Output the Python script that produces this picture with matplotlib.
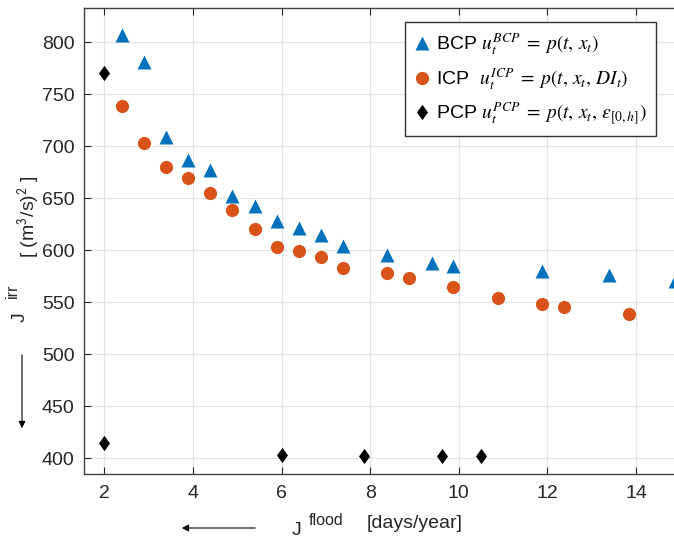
import numpy as np
import matplotlib
matplotlib.use('Agg')
import matplotlib.pyplot as plt
from matplotlib.patches import FancyArrowPatch

plt.rcParams['font.family'] = ['Liberation Sans', 'DejaVu Sans']
plt.rcParams['mathtext.fontset'] = 'stix'

# data
bcp_x = [2.39, 2.89, 3.38, 3.89, 4.38, 4.89, 5.41, 5.89, 6.39, 6.90, 7.39,
         8.39, 9.39, 9.87, 11.88, 13.38, 14.87]
bcp_y = [807, 781, 709, 687, 677, 652, 642, 628, 621, 615, 604,
         595, 588, 585, 580, 576, 570]

icp_x = [2.39, 2.89, 3.38, 3.89, 4.38, 4.89, 5.41, 5.89, 6.39, 6.89, 7.39,
         8.39, 8.88, 9.88, 10.88, 11.88, 12.38, 13.85]
icp_y = [739, 703, 680, 669, 655, 639, 620, 603, 599, 593, 583,
         578, 573, 565, 554, 548, 545, 539]

pcp_x = [2.0, 2.0, 6.0, 7.86, 9.62, 10.5]
pcp_y = [770, 415, 403, 402, 402, 402]

xticks = [2, 4, 6, 8, 10, 12, 14]
yticks = [400, 450, 500, 550, 600, 650, 700, 750, 800]

W, H = 674, 544
fig = plt.figure(figsize=(6.74, 5.44), dpi=100)
ax = fig.add_axes([0.125, 0.128, 0.885, 0.857])

# matlab-style diamond, a bit narrower than a square
diamond = [(0, 1), (0.72, 0), (0, -1), (-0.72, 0), (0, 1)]

l1, = ax.plot(bcp_x, bcp_y, '^', color='#0072BD', ms=10, mec='none')
l2, = ax.plot(icp_x, icp_y, 'o', color='#D95319', ms=9.5, mec='none')
l3, = ax.plot(pcp_x, pcp_y, marker=diamond, ls='none', color='black',
              ms=11, mec='none')

ax.set_xlim(1.546, 15.01)
ax.set_ylim(384.4, 832.7)
ax.set_xticks(xticks)
ax.set_yticks(yticks)
ax.grid(True, color='#e3e3e3', lw=0.9)
ax.set_axisbelow(True)
ax.tick_params(direction='in', length=5, width=0.8, colors='#262626',
               labelsize=14, top=True, right=True)
ax.tick_params(axis='x', pad=8)
ax.tick_params(axis='y', pad=7)
for s in ax.spines.values():
    s.set_color('#404040')
    s.set_linewidth(1.0)

leg = ax.legend([l1, l2, l3],
                [r'BCP $u_t^{BCP} \;=\; p(t,\, x_t)$',
                 r'ICP  $u_t^{ICP} \;=\; p(t,\, x_t,\, DI_t)$',
                 r'PCP $u_t^{PCP} \;=\; p(t,\, x_t,\, \varepsilon_{[0,h]})$'],
                loc='upper left', bbox_to_anchor=(405/W, 1 - 22/H),
                bbox_transform=fig.transFigure, fontsize=14,
                fancybox=False, framealpha=1, edgecolor='#333333',
                handlelength=0.7, handletextpad=0.4, labelspacing=0.45,
                borderpad=0.5, borderaxespad=0)
leg.get_frame().set_linewidth(1.0)
for t in leg.get_texts():
    t.set_math_fontfamily('stix')

# y label pieces
fig.text(25/W, 1 - 322/H, 'J', rotation=90, rotation_mode='anchor',
         ha='left', va='baseline', fontsize=14, color='#262626')
fig.text(17/W, 1 - 298/H, 'irr', rotation=90, rotation_mode='anchor',
         ha='left', va='baseline', fontsize=11.5, color='#262626')
fig.text(35/W, 1 - 217/H, r'[ (m$^\mathsf{3}$/s)$^\mathsf{2}$ ]', rotation=90,
         rotation_mode='anchor', ha='center', va='baseline', fontsize=14,
         color='#262626')

# x label pieces
fig.text(292/W, 1 - 535/H, 'J', ha='left', va='baseline', fontsize=14,
         color='#262626')
fig.text(309/W, 1 - 525/H, 'flood', ha='left', va='baseline', fontsize=11.5,
         color='#262626')
fig.text(367/W, 1 - 528/H, '[days/year]', ha='left', va='baseline',
         fontsize=14, color='#262626')

fig.patches.append(FancyArrowPatch(
    (258/W, 1 - 528/H), (179/W, 1 - 528/H), transform=fig.transFigure,
    arrowstyle='-|>,head_length=4,head_width=2', color='black', lw=0.8))
fig.patches.append(FancyArrowPatch(
    (22/W, 1 - 352/H), (22/W, 1 - 431/H), transform=fig.transFigure,
    arrowstyle='-|>,head_length=4,head_width=2', color='black', lw=0.8))

plt.savefig('out.png', dpi=100)
